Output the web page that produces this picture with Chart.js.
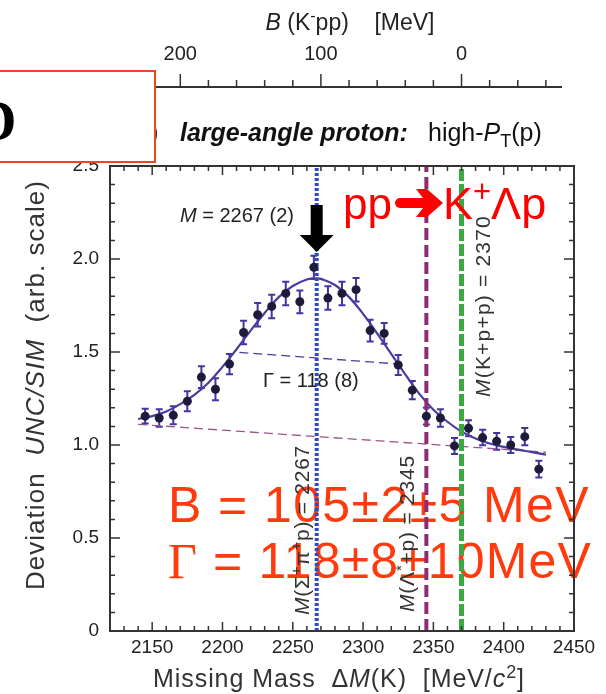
<!DOCTYPE html>
<html>
<head>
<meta charset="utf-8">
<script src="https://cdn.jsdelivr.net/npm/chart.js@4.4.1/dist/chart.umd.min.js"></script>
<style>
  html, body { margin: 0; padding: 0; background: #fff; }
  #wrap { width: 606px; height: 694px; }
</style>
</head>
<body>
<div id="wrap"><canvas id="myChart"></canvas></div>
<script>
// measured ratio UNC/SIM per 10 MeV bin
const massBins = [2145, 2155, 2165, 2175, 2185, 2195, 2205, 2215, 2225, 2235, 2245, 2255, 2265, 2275, 2285,
  2295, 2305, 2315, 2325, 2335, 2345, 2355, 2365, 2375, 2385, 2395, 2405, 2415, 2425];
const ratio = [1.155, 1.145, 1.16, 1.235, 1.365, 1.30, 1.435, 1.605, 1.70, 1.745, 1.815, 1.77, 1.955, 1.79, 1.815,
  1.835, 1.615, 1.60, 1.43, 1.295, 1.155, 1.145, 0.995, 1.09, 1.04, 1.02, 1.00, 1.045, 0.87];
const ratioErr = [0.04, 0.047, 0.049, 0.054, 0.058, 0.059, 0.054, 0.063, 0.063, 0.063, 0.063, 0.061, 0.063, 0.063, 0.063,
  0.063, 0.058, 0.056, 0.054, 0.049, 0.045, 0.047, 0.043, 0.043, 0.042, 0.045, 0.043, 0.047, 0.045];

// fitted curve
const fitMass = [2140, 2150, 2160, 2170, 2180, 2190, 2200, 2210, 2220, 2230, 2240, 2250, 2260, 2267, 2270,
  2280, 2290, 2300, 2310, 2320, 2330, 2340, 2350, 2360, 2370, 2380, 2390, 2400, 2410, 2420, 2430];
const fitValues = [1.14, 1.155, 1.18, 1.22, 1.27, 1.335, 1.42, 1.515, 1.615, 1.71, 1.795, 1.855, 1.89, 1.896, 1.893,
  1.86, 1.795, 1.705, 1.60, 1.49, 1.38, 1.275, 1.19, 1.125, 1.072, 1.035, 1.008, 0.99, 0.975, 0.962, 0.948];

// background and half-maximum lines
const bgMass = [2140, 2430];
const bgValues = [1.111, 0.961];
const halfMass = [2212, 2326];
const halfValues = [1.498, 1.435];

// thresholds
const thresholdMass = [2267, 2345, 2370];

const xTicks = [2150, 2200, 2250, 2300, 2350, 2400, 2450];
const yTicks = [0, 0.5, 1.0, 1.5, 2.0, 2.5];
const bTickLabels = [200, 100, 0];
const bTickMinor = [240, 220, 200, 180, 160, 140, 120, 100, 80, 60, 40, 20, 0, -20, -40, -60];

const SANS = '"Liberation Sans", Arial, sans-serif';
const SERIF = '"Liberation Serif", "Times New Roman", serif';

function fontOf(p, size) {
  const s = (p.sup || p.sub) ? Math.round(size * 0.7) : size;
  return (p.i ? 'italic ' : '') + (p.b ? 'bold ' : '') + s + 'px ' + (p.serif ? SERIF : SANS);
}
function runsWidth(ctx, parts, size, sp) {
  let w = 0;
  parts.forEach(p => { ctx.font = fontOf(p, size); w += ctx.measureText(p.t).width + sp * p.t.length; });
  return w;
}
// draw rich text starting at x (left), baseline y, in current transform
function drawRuns(ctx, parts, x, y, size, color, sp) {
  sp = sp || 0;
  ctx.fillStyle = color;
  ctx.textAlign = 'left';
  ctx.textBaseline = 'alphabetic';
  parts.forEach(p => {
    ctx.font = fontOf(p, size);
    ctx.letterSpacing = sp + 'px';
    let dy = 0;
    if (p.sup) dy = -size * 0.38;
    if (p.sub) dy = size * 0.22;
    ctx.fillText(p.t, x, y + dy);
    x += ctx.measureText(p.t).width;
  });
  ctx.letterSpacing = '0px';
}
function spacingFor(ctx, parts, size, target) {
  const w = runsWidth(ctx, parts, size, 0);
  const n = parts.reduce((a, p) => a + p.t.length, 0);
  return (target - w) / n;
}

const decor = {
  id: 'decor',
  beforeDatasetsDraw(chart) {
    const ctx = chart.ctx, xs = chart.scales.x, ys = chart.scales.y;
    ctx.save();
    // error bars
    ctx.strokeStyle = '#4335a0';
    ctx.lineWidth = 2;
    massBins.forEach((m, i) => {
      const px = xs.getPixelForValue(m);
      const y1 = ys.getPixelForValue(ratio[i] - ratioErr[i]);
      const y2 = ys.getPixelForValue(ratio[i] + ratioErr[i]);
      ctx.beginPath();
      ctx.moveTo(px, y1); ctx.lineTo(px, y2);
      ctx.moveTo(px - 3.5, y1); ctx.lineTo(px + 3.5, y1);
      ctx.moveTo(px - 3.5, y2); ctx.lineTo(px + 3.5, y2);
      ctx.stroke();
    });
    // big result text
    const red = '#ff3a0c';
    let parts = [{ t: 'B = 105±2±5 MeV' }];
    drawRuns(ctx, parts, 168, 522, 50, red, spacingFor(ctx, parts, 50, 422));
    parts = [{ t: 'Γ', serif: true }, { t: ' = 118±8±10MeV' }];
    drawRuns(ctx, parts, 168, 578, 50, red, spacingFor(ctx, parts, 50, 424));
    ctx.restore();
  },
  afterDatasetsDraw(chart) {
    const ctx = chart.ctx, xs = chart.scales.x, ys = chart.scales.y;
    const a = chart.chartArea;
    ctx.save();
    // frame
    ctx.strokeStyle = '#333';
    ctx.lineWidth = 2;
    ctx.strokeRect(a.left, a.top, a.right - a.left, a.bottom - a.top);
    // inward ticks
    ctx.lineWidth = 1.5;
    ctx.beginPath();
    for (let v = 2130; v <= 2440; v += 10) {
      const px = xs.getPixelForValue(v);
      const len = v % 50 === 0 ? 9 : 5;
      ctx.moveTo(px, a.bottom); ctx.lineTo(px, a.bottom - len);
      ctx.moveTo(px, a.top); ctx.lineTo(px, a.top + len);
    }
    for (let k = 1; k < 25; k++) {
      const py = ys.getPixelForValue(k / 10);
      const len = k % 5 === 0 ? 10 : 5;
      ctx.moveTo(a.left, py); ctx.lineTo(a.left + len, py);
      ctx.moveTo(a.right, py); ctx.lineTo(a.right - len, py);
    }
    ctx.stroke();

    // top axis: binding energy B = 2370 - M
    const topY = 87;
    ctx.strokeStyle = '#333';
    ctx.lineWidth = 2;
    ctx.beginPath();
    ctx.moveTo(100, topY); ctx.lineTo(562, topY);
    ctx.stroke();
    ctx.lineWidth = 1.5;
    ctx.beginPath();
    bTickMinor.forEach(b => {
      const px = xs.getPixelForValue(thresholdMass[2] - b);
      const len = bTickLabels.includes(b) ? 13 : 7;
      ctx.moveTo(px, topY); ctx.lineTo(px, topY - len);
    });
    ctx.stroke();
    ctx.fillStyle = '#222';
    ctx.font = '20px ' + SANS;
    ctx.textAlign = 'center';
    ctx.textBaseline = 'middle';
    bTickLabels.forEach(b => ctx.fillText(String(b), xs.getPixelForValue(thresholdMass[2] - b), 54));
    let parts = [{ t: 'B', i: true }, { t: ' (K' }, { t: '-', sup: true }, { t: 'pp)    [MeV]' }];
    drawRuns(ctx, parts, 350 - runsWidth(ctx, parts, 23, 0) / 2, 30, 23, '#222');

    // subtitle
    drawRuns(ctx, [{ t: '(b)' }], 128, 141, 25, '#1a2a6a');
    drawRuns(ctx, [{ t: 'large-angle proton:', b: true, i: true }], 180, 141, 25, '#111');
    drawRuns(ctx, [{ t: 'high-' }, { t: 'P', i: true }, { t: 'T', sub: true }, { t: '(p)' }], 428, 141, 25, '#111');

    // peak arrow and annotations
    const pk = xs.getPixelForValue(thresholdMass[0]);
    ctx.fillStyle = '#000';
    ctx.beginPath();
    ctx.moveTo(pk - 6, 205); ctx.lineTo(pk + 6, 205); ctx.lineTo(pk + 6, 235);
    ctx.lineTo(pk + 17, 235); ctx.lineTo(pk, 252); ctx.lineTo(pk - 17, 235);
    ctx.lineTo(pk - 6, 235); ctx.closePath();
    ctx.fill();
    parts = [{ t: 'M', i: true }, { t: ' = 2267 (2)' }];
    drawRuns(ctx, parts, 180, 222, 20, '#222');
    drawRuns(ctx, [{ t: 'Γ = 118 (8)' }], 263, 387, 20, '#222');

    // reaction label
    const rr = '#ff0000';
    drawRuns(ctx, [{ t: 'pp' }], 343, 219, 44, rr);
    ctx.fillStyle = rr;
    ctx.beginPath();
    ctx.moveTo(400, 198); ctx.lineTo(423, 198); ctx.lineTo(416, 189); ctx.lineTo(427, 189);
    ctx.lineTo(443, 203); ctx.lineTo(427, 217); ctx.lineTo(416, 217); ctx.lineTo(423, 208);
    ctx.lineTo(400, 208); ctx.arc(400, 203, 5, Math.PI / 2, Math.PI * 1.5); ctx.closePath();
    ctx.fill();
    parts = [{ t: 'K' }, { t: '+', sup: true }, { t: 'Λp' }];
    drawRuns(ctx, parts, 443, 219, 45, rr);

    // threshold labels (rotated)
    const labels = [
      { x: 309, y: 615, parts: [{ t: 'M', i: true }, { t: '(Σ' }, { t: '+', sup: true }, { t: 'π' }, { t: '+', sup: true }, { t: 'p) = 2267' }], len: 170 },
      { x: 414, y: 612, parts: [{ t: 'M', i: true }, { t: '(Λ' }, { t: '*', sup: true }, { t: '+p) = 2345' }], len: 157 },
      { x: 490, y: 397, parts: [{ t: 'M', i: true }, { t: '(K+p+p) = 2370' }], len: 182 }
    ];
    labels.forEach(l => {
      ctx.save();
      ctx.translate(l.x, l.y);
      ctx.rotate(-Math.PI / 2);
      drawRuns(ctx, l.parts, 0, 0, 21, '#333', spacingFor(ctx, l.parts, 21, l.len));
      ctx.restore();
    });

    // axis titles
    ctx.save();
    ctx.translate(44, 590);
    ctx.rotate(-Math.PI / 2);
    parts = [{ t: 'Deviation  ' }, { t: 'UNC/SIM', i: true }, { t: '  (arb. scale)' }];
    drawRuns(ctx, parts, 0, 0, 26, '#333', spacingFor(ctx, parts, 26, 410));
    ctx.restore();
    parts = [{ t: 'Missing Mass  Δ' }, { t: 'M', i: true }, { t: '(K)  [MeV/' }, { t: 'c', i: true }, { t: '2', sup: true }, { t: ']' }];
    drawRuns(ctx, parts, 153, 687, 25, '#333', spacingFor(ctx, parts, 25, 372));

    // label box
    ctx.fillStyle = '#fff';
    ctx.fillRect(-2, 71, 157, 91);
    ctx.strokeStyle = '#f0461e';
    ctx.lineWidth = 2;
    ctx.strokeRect(-2, 71, 157, 91);
    ctx.fillStyle = '#000';
    ctx.font = 'bold 56px ' + SERIF;
    ctx.textAlign = 'left';
    ctx.textBaseline = 'alphabetic';
    ctx.fillText('D', -24, 140);
    ctx.restore();
  }
};

const lineSet = (xsArr, ysArr, color, width, dash, order) => ({
  type: 'line',
  data: xsArr.map((x, i) => ({ x: x, y: ysArr[i] })),
  borderColor: color,
  borderWidth: width,
  borderDash: dash,
  pointRadius: 0,
  fill: false,
  order: order
});

new Chart(document.getElementById('myChart'), {
  type: 'scatter',
  data: {
    datasets: [
      {
        data: massBins.map((m, i) => ({ x: m, y: ratio[i] })),
        backgroundColor: '#1d1b3a',
        borderWidth: 0,
        pointRadius: 4.5,
        order: 0
      },
      lineSet([thresholdMass[0], thresholdMass[0]], [0, 2.5], '#2b4cc4', 4, [3, 2], 1),
      lineSet([thresholdMass[1], thresholdMass[1]], [0, 2.5], '#8e2b72', 4, [12, 5], 1),
      lineSet([thresholdMass[2], thresholdMass[2]], [0, 2.5], '#3aa843', 5, [12, 3], 1),
      Object.assign(lineSet(fitMass, fitValues, '#4a3b9c', 2.2, [], 2), { tension: 0.4 }),
      lineSet(bgMass, bgValues, '#a0528a', 1.3, [9, 5], 3),
      lineSet(halfMass, halfValues, '#4a3b9c', 1.3, [9, 5], 3)
    ]
  },
  options: {
    responsive: true,
    maintainAspectRatio: false,
    animation: false,
    layout: { padding: { left: 0, right: 32, top: 166, bottom: 0 } },
    plugins: { legend: { display: false }, tooltip: { enabled: false } },
    scales: {
      x: {
        type: 'linear',
        min: 2120,
        max: 2450,
        afterBuildTicks: s => { s.ticks = xTicks.map(v => ({ value: v })); },
        afterFit: s => { s.height = 63; },
        grid: { display: false, drawTicks: false },
        border: { display: false },
        ticks: {
          color: '#222', font: { size: 19, family: SANS }, padding: 5, maxRotation: 0, autoSkip: false,
          callback: v => String(v)
        }
      },
      y: {
        min: 0,
        max: 2.5,
        afterBuildTicks: s => { s.ticks = yTicks.map(v => ({ value: v })); },
        afterFit: s => { s.width = 110; },
        grid: { display: false, drawTicks: false },
        border: { display: false },
        ticks: {
          color: '#222', font: { size: 19, family: SANS }, padding: 11,
          callback: v => v === 0 ? '0' : v.toFixed(1)
        }
      }
    }
  },
  plugins: [decor]
});
</script>
</body>
</html>
